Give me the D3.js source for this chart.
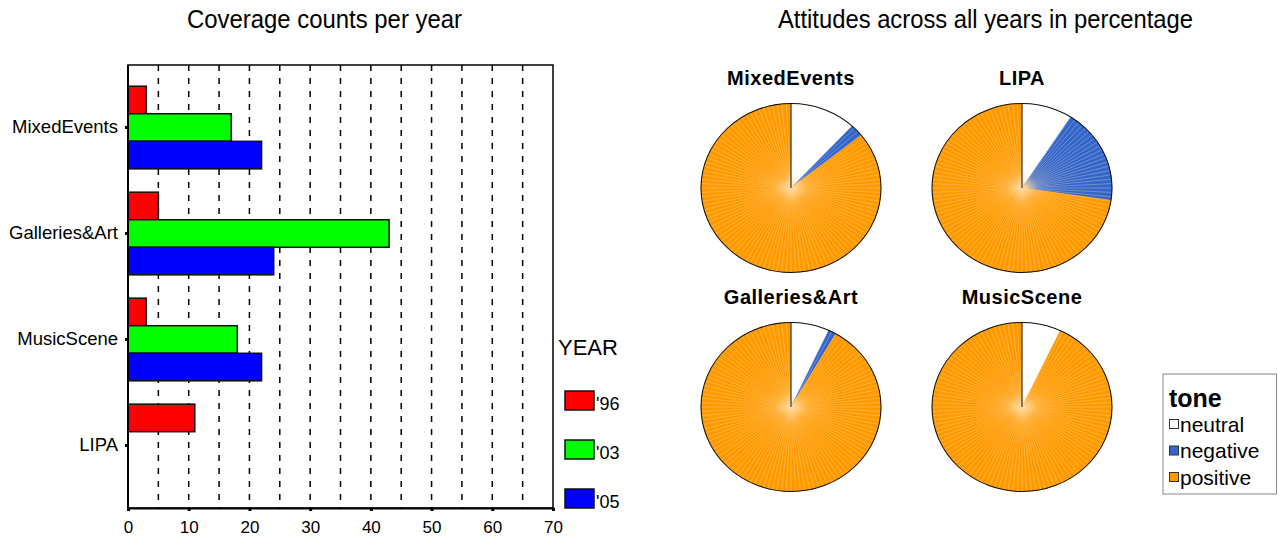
<!DOCTYPE html>
<html>
<head>
<meta charset="utf-8">
<script src="https://cdn.jsdelivr.net/npm/d3@7"></script>
<style>
  body { margin: 0; background: #fff; }
  svg { display: block; }
</style>
</head>
<body>
<svg id="chart" width="1279" height="538"></svg>
<script>
// ---- bar chart data: coverage counts per category and year ----
const categories = ["MixedEvents", "Galleries&Art", "MusicScene", "LIPA"];
const years = ["'96", "'03", "'05"];
const counts96 = [3, 5, 3, 11];
const counts03 = [17, 43, 18, 0];
const counts05 = [22, 24, 22, 0];
const yearColors = ["#ff0000", "#00ff00", "#0000ff"];
const xTicks = [0, 10, 20, 30, 40, 50, 60, 70];
const gridValues = [5, 10, 15, 20, 25, 30, 35, 40, 45, 50, 55, 60, 65];

// ---- pie data: share of each tone (percent of all years) ----
const pieTitles = ["MixedEvents", "LIPA", "Galleries&Art", "MusicScene"];
const tones = ["neutral", "negative", "positive"];
const toneColors = ["#ffffff", "#3366cc", "#ff9900"];
const neutralPct = [11.9, 9.1, 6.9, 7.0];
const negativePct = [2.4, 18.2, 1.4, 0.0];
const positivePct = [85.7, 72.7, 91.7, 93.0];

const svg = d3.select("#chart");
const sans = "'Liberation Sans', Arial, sans-serif";

// ================= Bar chart =================
const plot = { left: 128, right: 553, top: 65, bottom: 508 };
const x = d3.scaleLinear().domain([0, 70]).range([plot.left, plot.right]);
const y = d3.scaleBand().domain(categories)
  .range([plot.top, plot.bottom]).paddingInner(0.22).paddingOuter(0.2);
const ySub = d3.scaleBand().domain(years).range([0, y.bandwidth()]);
const yearColor = d3.scaleOrdinal().domain(years).range(yearColors);

// condensed-looking panel titles
svg.append("text")
  .attr("x", 187).attr("y", 28)
  .attr("font-family", sans).attr("font-size", 25)
  .attr("textLength", 275).attr("lengthAdjust", "spacingAndGlyphs")
  .text("Coverage counts per year");

// dashed vertical grid
svg.append("g").selectAll("line").data(gridValues).join("line")
  .attr("x1", d => x(d)).attr("x2", d => x(d))
  .attr("y1", plot.top).attr("y2", plot.bottom)
  .attr("stroke", "#000").attr("stroke-width", 1.5)
  .attr("stroke-dasharray", "6,7");

// bars
const rows = categories.map((c, i) => ({
  cat: c, values: [counts96[i], counts03[i], counts05[i]]
}));
const groups = svg.append("g").selectAll("g").data(rows).join("g")
  .attr("transform", d => `translate(0,${y(d.cat)})`);
groups.selectAll("rect")
  .data(d => d.values.map((v, j) => ({ year: years[j], value: v })).filter(e => e.value > 0))
  .join("rect")
  .attr("x", x(0))
  .attr("y", d => ySub(d.year))
  .attr("width", d => x(d.value) - x(0))
  .attr("height", ySub.bandwidth())
  .attr("fill", d => yearColor(d.year))
  .attr("stroke", "#111").attr("stroke-width", 1.5);

// frame
svg.append("rect")
  .attr("x", plot.left).attr("y", plot.top)
  .attr("width", plot.right - plot.left).attr("height", plot.bottom - plot.top)
  .attr("fill", "none").attr("stroke", "#000").attr("stroke-width", 1.5);
svg.append("line")
  .attr("x1", plot.left).attr("x2", plot.left)
  .attr("y1", plot.top).attr("y2", plot.bottom)
  .attr("stroke", "#000").attr("stroke-width", 2);

// axes
const yAxis = svg.append("g")
  .attr("transform", `translate(${plot.left},0)`)
  .call(d3.axisLeft(y).tickSize(3).tickPadding(7));
yAxis.select(".domain").remove();
yAxis.selectAll(".tick line").attr("stroke-width", 3);
yAxis.selectAll(".tick text")
  .attr("font-family", sans).attr("font-size", 18.5).attr("fill", "#000");

const xAxis = svg.append("g")
  .attr("transform", `translate(0,${plot.bottom})`)
  .call(d3.axisBottom(x).tickValues(xTicks).tickSize(3).tickPadding(10));
xAxis.select(".domain").attr("stroke-width", 2);
xAxis.selectAll(".tick line").attr("stroke-width", 3);
xAxis.selectAll(".tick text")
  .attr("font-family", sans).attr("font-size", 17).attr("fill", "#000");

// year legend
svg.append("text")
  .attr("x", 558).attr("y", 355)
  .attr("font-family", sans).attr("font-size", 22)
  .text("YEAR");
const legY = d3.scalePoint().domain(years).range([391, 489]);
const leg = svg.append("g").selectAll("g").data(years).join("g")
  .attr("transform", d => `translate(565,${legY(d)})`);
leg.append("rect")
  .attr("width", 29).attr("height", 19)
  .attr("fill", d => yearColor(d))
  .attr("stroke", "#111").attr("stroke-width", 1.5);
leg.append("text")
  .attr("x", 31).attr("y", 19)
  .attr("font-family", sans).attr("font-size", 18)
  .text(d => d);

// ================= Pie charts =================
svg.append("text")
  .attr("x", 778).attr("y", 28)
  .attr("font-family", sans).attr("font-size", 25)
  .attr("textLength", 415).attr("lengthAdjust", "spacingAndGlyphs")
  .text("Attitudes across all years in percentage");

const toneColor = d3.scaleOrdinal().domain(tones).range(toneColors);
const radius = 84.5;
const stretch = 1.065;
const pieCols = [791, 1022];
const pieRows = [188, 407];
const pie = d3.pie().sort(null).value(d => d.value);
const arc = d3.arc().innerRadius(0).outerRadius(radius);

const defs = svg.append("defs");
const glow = defs.append("radialGradient").attr("id", "centerGlow");
glow.append("stop").attr("offset", "0%").attr("stop-color", "#ffd08a").attr("stop-opacity", 0.7);
glow.append("stop").attr("offset", "100%").attr("stop-color", "#ffd08a").attr("stop-opacity", 0);

const rayAngles = d3.range(0, 360, 3);

pieTitles.forEach((title, i) => {
  const cx = pieCols[i % 2];
  const cy = pieRows[Math.floor(i / 2)];
  const data = [
    { tone: "neutral", value: neutralPct[i] },
    { tone: "negative", value: negativePct[i] },
    { tone: "positive", value: positivePct[i] }
  ];
  const arcs = pie(data);

  svg.append("text")
    .attr("x", cx).attr("y", cy - 103)
    .attr("text-anchor", "middle")
    .attr("font-family", sans).attr("font-weight", "bold").attr("font-size", 20)
    .attr("letter-spacing", 0.5)
    .text(title);

  const g = svg.append("g").attr("transform", `translate(${cx},${cy}) scale(${stretch},1)`);
  g.selectAll("path.slice").data(arcs.filter(a => a.data.value > 0)).join("path")
    .attr("class", "slice")
    .attr("d", arc)
    .attr("fill", d => toneColor(d.data.tone))
    .attr("stroke", d => toneColor(d.data.tone)).attr("stroke-width", 0.5);

  // faint radial rays over the coloured slices
  const colouredStart = arcs[1].startAngle;
  g.append("g").selectAll("line")
    .data(rayAngles.map(a => a * Math.PI / 180).filter(a => a >= colouredStart))
    .join("line")
    .attr("x1", 0).attr("y1", 0)
    .attr("x2", a => radius * Math.sin(a))
    .attr("y2", a => -radius * Math.cos(a))
    .attr("stroke", "#ffe7c0").attr("stroke-opacity", 0.5).attr("stroke-width", 0.6);

  g.append("circle").attr("r", 14).attr("fill", "url(#centerGlow)");

  g.append("line")
    .attr("x1", 0).attr("y1", 0).attr("x2", 0).attr("y2", -radius)
    .attr("stroke", "#444").attr("stroke-width", 1.2);
  g.append("circle").attr("r", radius)
    .attr("fill", "none").attr("stroke", "#111").attr("stroke-width", 1);
});

// tone legend
const tl = svg.append("g").attr("transform", "translate(1163,374)");
tl.append("rect")
  .attr("width", 113.5).attr("height", 120)
  .attr("fill", "#fff").attr("stroke", "#888").attr("stroke-width", 1);
tl.append("text")
  .attr("x", 6).attr("y", 33)
  .attr("font-family", sans).attr("font-weight", "bold").attr("font-size", 25)
  .text("tone");
const toneY = d3.scalePoint().domain(tones).range([50, 103]);
const ti = tl.selectAll("g.item").data(tones).join("g")
  .attr("class", "item")
  .attr("transform", d => `translate(6,${toneY(d)})`);
ti.append("rect")
  .attr("x", 0.5).attr("y", -4.5).attr("width", 9).attr("height", 9)
  .attr("fill", d => toneColor(d)).attr("stroke", "#333").attr("stroke-width", 1);
ti.append("text")
  .attr("x", 11).attr("y", 7.5)
  .attr("font-family", sans).attr("font-size", 21)
  .text(d => d);
</script>
</body>
</html>
